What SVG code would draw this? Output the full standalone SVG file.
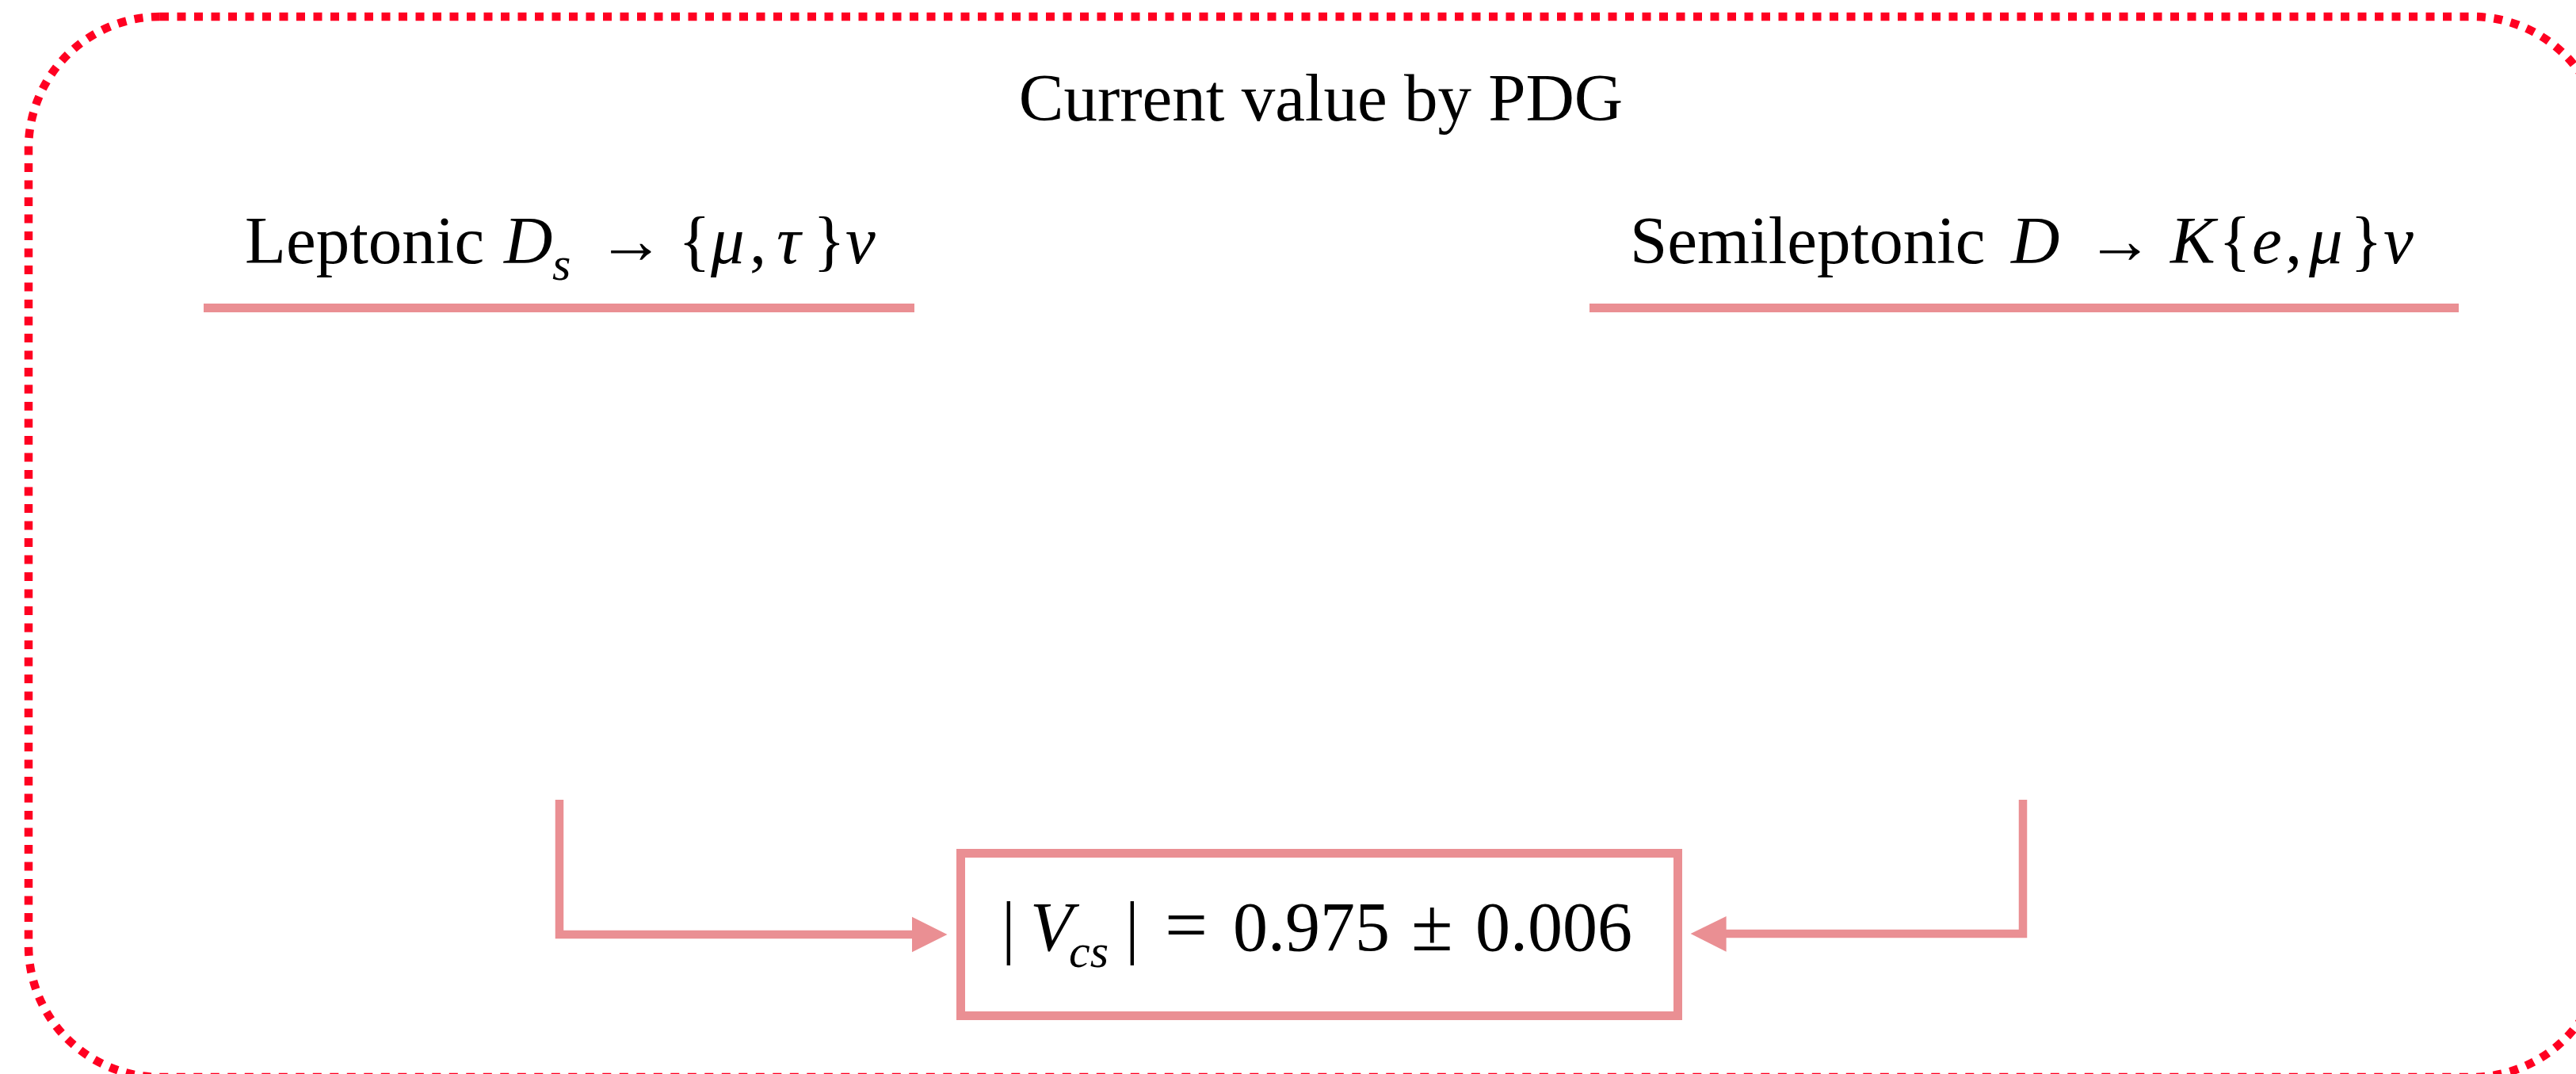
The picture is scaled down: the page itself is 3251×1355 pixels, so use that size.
<svg xmlns="http://www.w3.org/2000/svg" width="3251" height="1355" viewBox="0 0 3251 1355">
<style>
.t{font-family:"Liberation Serif","Times New Roman",serif;fill:#000}
.big{font-size:85px}
.box{font-size:88px}
.it{font-style:italic}
.sub{font-size:60px;font-style:italic}
.op{font-size:96px}
.pink{stroke:#ea8f93;fill:none}
.pinkfill{fill:#ea8f93;stroke:none}
</style>
<rect x="0" y="0" width="3251" height="1355" fill="#ffffff"/>
<g id="frame">
<rect x="36" y="21" width="3250" height="1338" rx="166" ry="166" fill="none" stroke="#ff0021" stroke-width="10.5" stroke-dasharray="11 10.5"/>
</g>
<g id="title">
<text class="t big" x="1667" y="152" text-anchor="middle">Current value by PDG</text>
</g>
<g id="leptonic">
<text class="t big" y="332"><tspan x="309">Leptonic</tspan><tspan class="it" x="636">D</tspan><tspan class="sub" x="697" y="353">s</tspan><tspan x="754" y="332">→</tspan><tspan x="856">{</tspan><tspan class="it" x="897">μ</tspan><tspan x="946">,</tspan><tspan class="it" x="980">τ</tspan><tspan x="1026">}</tspan><tspan class="it" x="1067">ν</tspan></text>
<line class="pink" x1="257" y1="388.5" x2="1154" y2="388.5" stroke-width="11"/>
</g>
<g id="semileptonic">
<text class="t big" y="332"><tspan x="2057">Semileptonic</tspan><tspan class="it" x="2538">D</tspan><tspan x="2633">→</tspan><tspan class="it" x="2739">K</tspan><tspan x="2800">{</tspan><tspan class="it" x="2842">e</tspan><tspan x="2884">,</tspan><tspan class="it" x="2914">μ</tspan><tspan x="2966">}</tspan><tspan class="it" x="3008">ν</tspan></text>
<line class="pink" x1="2006" y1="388.5" x2="3103" y2="388.5" stroke-width="11"/>
</g>
<g id="vcs">
<rect class="pink" x="1212.5" y="1076.5" width="905" height="205" stroke-width="11" fill="#ffffff"/>
<text class="t box" y="1199"><tspan x="1264">|</tspan><tspan class="it" x="1300">V</tspan><tspan class="sub" x="1349" y="1220">cs</tspan><tspan x="1420" y="1199">|</tspan><tspan class="op" x="1470">=</tspan><tspan x="1556">0.975</tspan><tspan class="op" x="1781">±</tspan><tspan x="1862">0.006</tspan></text>
</g>
<g id="connectors">
<path class="pink" d="M706,1009 V1179 H1153" stroke-width="10.5"/>
<polygon class="pinkfill" points="1151,1156.7 1195.5,1179 1151,1201.3"/>
<path class="pink" d="M2553,1009 V1178 H2177" stroke-width="10.5"/>
<polygon class="pinkfill" points="2178.6,1156 2133.6,1178 2178.6,1200.7"/>
</g>
</svg>
